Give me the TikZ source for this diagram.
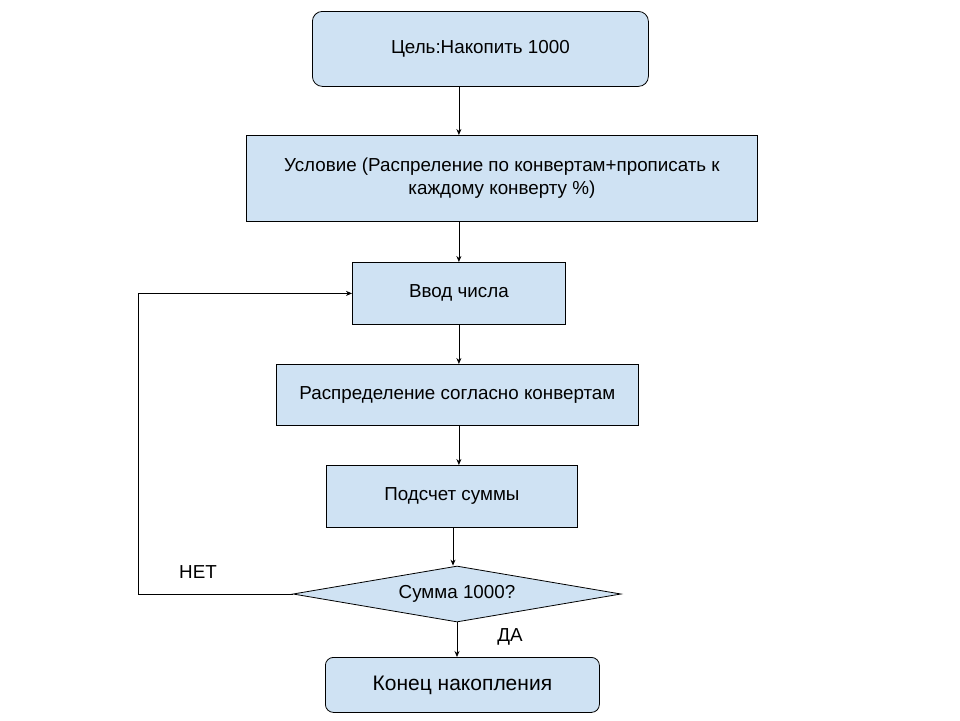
\documentclass[tikz,border=0pt]{standalone}
\usepackage{fontspec}
\setmainfont{Liberation Sans}
\usetikzlibrary{shapes.geometric,arrows.meta}
\definecolor{boxfill}{HTML}{CFE2F3}
\begin{document}
\begin{tikzpicture}[x=1pt,y=-1pt,
  every node/.style={font=\fontsize{18.8}{23}\selectfont},
  blk/.style={draw=black,line width=0.8pt,fill=boxfill,inner sep=0pt,anchor=north west},
  rblk/.style={blk,rounded corners=10pt},
  dec/.style={draw=black,line width=0.8pt,fill=boxfill,shape=diamond,inner sep=0pt,
     minimum width=328pt,minimum height=56pt,shape aspect=5.86},
  arr/.style={line width=0.8pt,-{Stealth[length=6pt,width=5pt]}},
  lbl/.style={inner sep=0pt}]
\useasboundingbox (0,0) rectangle (960,720);
\node[rblk,minimum width=336pt,minimum height=75pt] (goal) at (312,11) {Цель:Накопить 1000};
\node[blk,minimum width=511pt,minimum height=86pt,align=center] (cond) at (246,135)
  {Условие (Распреление по конвертам+прописать к\\каждому конверту \%)};
\node[blk,minimum width=213pt,minimum height=62pt] (inp) at (352,262) {Ввод числа};
\node[blk,minimum width=362pt,minimum height=61pt] (dist) at (276,364) {Распределение согласно конвертам};
\node[blk,minimum width=251pt,minimum height=62pt] (sum) at (326,465) {Подсчет суммы};
\node[dec] (chk) at (457,594) {Сумма 1000?};
\node[rblk,rounded corners=8pt,minimum width=274pt,minimum height=55pt,font=\fontsize{21}{25}\selectfont] (fin) at (325,657) {Конец накопления};
\coordinate (loop) at (138,594);
\draw[arr] (goal.south -| inp) -- (cond.north -| inp);
\draw[arr] (cond.south -| inp) -- (inp.north);
\draw[arr] (inp.south) -- (inp.south |- dist.north);
\draw[arr] (dist.south -| inp) -- (sum.north -| inp);
\draw[arr] (sum.south -| 453,0) -- (chk.north -| 453,0);
\draw[arr] (chk.south) -- (chk.south |- fin.north);
\draw[arr] (chk.west) -- (loop) |- (inp.west);
\node[lbl] (no) at (198,572) {НЕТ};
\node[lbl] (yes) at (510,637) {ДА};
\end{tikzpicture}
\end{document}
